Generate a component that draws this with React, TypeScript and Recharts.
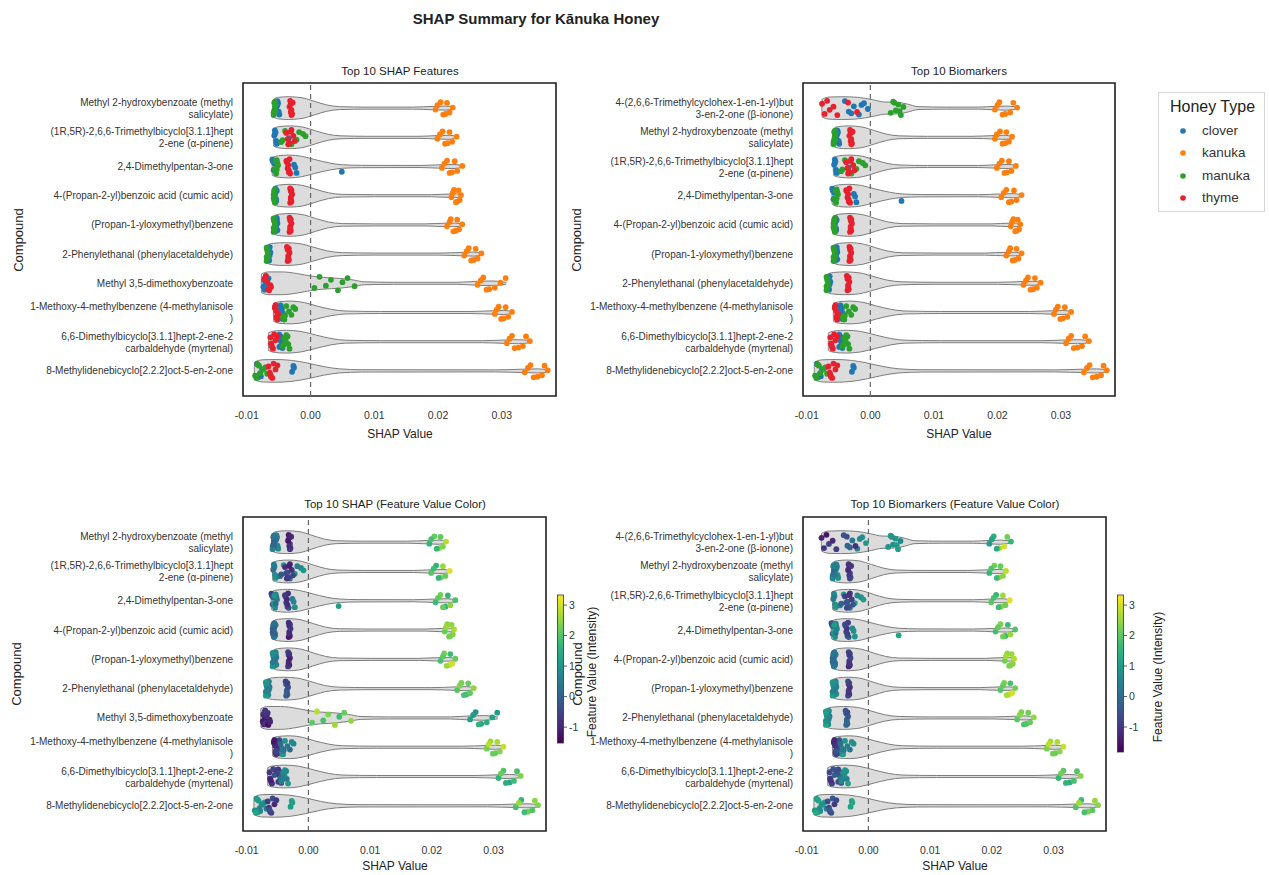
import React from 'react';
import { ComposedChart, Area, Scatter, XAxis, YAxis, ReferenceLine, ReferenceArea } from 'recharts';

const FONT = '"Liberation Sans", Arial, Helvetica, sans-serif';

// tick labels, wrapped the way they are printed
const COMPOUND_LABELS: string[][] = [
  ['Methyl 2-hydroxybenzoate (methyl', 'salicylate)'],
  ['(1R,5R)-2,6,6-Trimethylbicyclo[3.1.1]hept', '2-ene (α-pinene)'],
  ['2,4-Dimethylpentan-3-one'],
  ['4-(Propan-2-yl)benzoic acid (cumic acid)'],
  ['(Propan-1-yloxymethyl)benzene'],
  ['2-Phenylethanal (phenylacetaldehyde)'],
  ['Methyl 3,5-dimethoxybenzoate'],
  ['1-Methoxy-4-methylbenzene (4-methylanisole', ')'],
  ['6,6-Dimethylbicyclo[3.1.1]hept-2-ene-2', 'carbaldehyde (myrtenal)'],
  ['8-Methylidenebicyclo[2.2.2]oct-5-en-2-one'],
  ['4-(2,6,6-Trimethylcyclohex-1-en-1-yl)but', '3-en-2-one (β-ionone)'],
];

const SHAP_ORDER = [0, 1, 2, 3, 4, 5, 6, 7, 8, 9];
const BIOMARKER_ORDER = [10, 0, 1, 2, 3, 4, 5, 7, 8, 9];

const HONEY_TYPES = ['clover', 'kanuka', 'manuka', 'thyme'];
const HONEY_COLORS = ['#1f77b4', '#ff7f0e', '#2ca02c', '#e8202e'];

const X_TICKS = [-0.01, 0, 0.01, 0.02, 0.03];
const CBAR_TICKS = [-1, 0, 1, 2, 3];

// vertical offsets of the strip points inside a row, one list per honey type
const CLOVER_JITTER = [-0.24, 0.12, -0.06, 0.22, -0.17, 0.03, 0.18, -0.11];
const KANUKA_JITTER = [0.05, -0.2, 0.2, -0.1, 0.15, -0.02, 0.22, -0.18];
const MANUKA_JITTER = [0.16, -0.22, 0.08, -0.12, 0.24, -0.04, -0.18, 0.1];
const THYME_JITTER = [-0.15, 0.2, -0.25, 0.06, -0.05, 0.24, -0.19, 0.13];

// SHAP values per compound (index as in COMPOUND_LABELS)
const CLOVER_SHAP: number[][] = [
  [-0.0052, -0.005, -0.0053, -0.0049, -0.0051, -0.0054, -0.005, -0.0052],
  [-0.0056, -0.0054, -0.0057, -0.0053, -0.0055, -0.0034, -0.0052, -0.0056],
  [-0.006, -0.0058, -0.0026, -0.0022, -0.0059, -0.0024, 0.0049, -0.0057],
  [-0.0055, -0.0054, -0.0056, -0.0055, -0.0053, -0.0056, -0.0054, -0.0055],
  [-0.0053, -0.0054, -0.0052, -0.0055, -0.0053, -0.0054, -0.0052, -0.0053],
  [-0.0064, -0.0066, -0.0063, -0.0065, -0.0067, -0.0064, -0.0066, -0.0065],
  [-0.007, -0.0074, -0.0068, -0.0072, -0.0066, -0.0071, -0.0069, -0.0073],
  [-0.0047, -0.0045, -0.0048, -0.0044, -0.0046, -0.0043, -0.0047, -0.0045],
  [-0.0049, -0.0046, -0.0048, -0.0044, -0.0047, -0.0045, -0.0049, -0.0046],
  [-0.0084, -0.008, -0.0076, -0.0082, -0.0027, -0.0029, -0.0078, -0.0026],
  [-0.004, -0.0034, -0.0026, -0.0018, -0.001, -0.0004, -0.003, -0.0014],
];
const KANUKA_SHAP: number[][] = [
  [0.0196, 0.0204, 0.0212, 0.0199, 0.0218, 0.0223, 0.0208, 0.0214],
  [0.0199, 0.0207, 0.0215, 0.0203, 0.0222, 0.0229, 0.0211, 0.0218],
  [0.0206, 0.0214, 0.0222, 0.021, 0.023, 0.0238, 0.0218, 0.0226],
  [0.0221, 0.0225, 0.023, 0.0223, 0.0234, 0.0236, 0.0228, 0.0232],
  [0.0214, 0.022, 0.0228, 0.0218, 0.0233, 0.0238, 0.0224, 0.023],
  [0.0241, 0.0248, 0.0256, 0.0245, 0.0262, 0.0268, 0.0252, 0.0259],
  [0.0262, 0.0271, 0.028, 0.0267, 0.0289, 0.0298, 0.0276, 0.0306],
  [0.0289, 0.0295, 0.0303, 0.0292, 0.031, 0.0316, 0.0299, 0.0306],
  [0.0308, 0.0316, 0.0326, 0.0312, 0.0333, 0.0344, 0.032, 0.0338],
  [0.0336, 0.0345, 0.0356, 0.0341, 0.0363, 0.0372, 0.035, 0.0367],
  [0.0196, 0.0203, 0.0212, 0.02, 0.022, 0.0231, 0.0208, 0.0225],
];
const MANUKA_SHAP: number[][] = [
  [-0.0058, -0.0056, -0.0057, -0.0055, -0.0058, -0.0056, -0.0057, -0.0055],
  [-0.0046, -0.004, -0.0022, -0.0012, -0.003, -0.0008, -0.0018, -0.0044],
  [-0.0055, -0.0053, -0.0056, -0.0052, -0.0054, -0.0051, -0.0055, -0.0053],
  [-0.0057, -0.0056, -0.0058, -0.0057, -0.0056, -0.0058, -0.0057, -0.0056],
  [-0.0057, -0.0058, -0.0056, -0.0057, -0.0058, -0.0056, -0.0057, -0.0058],
  [-0.0068, -0.0069, -0.0067, -0.0068, -0.0069, -0.0067, -0.0068, -0.0069],
  [0.0006, 0.0014, 0.0024, 0.0032, 0.0043, 0.005, 0.0058, 0.0069],
  [-0.0044, -0.0038, -0.003, -0.0024, -0.0041, -0.0034, -0.0027, -0.004],
  [-0.0044, -0.0038, -0.0035, -0.0041, -0.0033, -0.0039, -0.0036, -0.0042],
  [-0.0087, -0.0083, -0.0079, -0.0071, -0.0085, -0.0074, -0.0081, -0.0068],
  [0.0032, 0.0036, 0.004, 0.0044, 0.0048, 0.0052, 0.0038, 0.0046],
];
const THYME_SHAP: number[][] = [
  [-0.0031, -0.0029, -0.0032, -0.003, -0.0033, -0.003, -0.0028, -0.0031],
  [-0.0038, -0.0033, -0.003, -0.0036, -0.0027, -0.0035, -0.0031, -0.0025],
  [-0.0037, -0.0034, -0.0033, -0.0036, -0.0035, -0.0032, -0.0038, -0.0034],
  [-0.0031, -0.003, -0.0032, -0.0031, -0.0029, -0.0032, -0.003, -0.0031],
  [-0.0032, -0.0031, -0.0033, -0.0032, -0.003, -0.0033, -0.0031, -0.0032],
  [-0.0036, -0.0034, -0.0037, -0.0035, -0.0033, -0.0036, -0.0034, -0.0035],
  [-0.0072, -0.0066, -0.007, -0.0063, -0.0068, -0.0065, -0.0071, -0.0062],
  [-0.0056, -0.0053, -0.0055, -0.0051, -0.0054, -0.0052, -0.0056, -0.0053],
  [-0.0063, -0.006, -0.0057, -0.0062, -0.0055, -0.0059, -0.0052, -0.0061],
  [-0.0066, -0.0062, -0.0058, -0.0064, -0.0055, -0.006, -0.0052, -0.0063],
  [-0.0076, -0.0072, -0.0068, -0.0064, -0.0058, -0.0052, -0.0035, -0.0021],
];

// standardised feature value of each point (colour in the lower panels)
const CLOVER_FV: number[][] = [
  [0.6, 0.9, 0.4, 0.8, 0.5, 1.0, 0.7, 0.3],
  [0.5, 0.8, 0.2, 1.1, 0.6, -0.4, 0.9, 0.3],
  [-0.6, -0.2, 0.5, 0.9, -0.4, 0.7, 1.2, 0.1],
  [0.1, 0.3, -0.1, 0.2, 0.4, 0.0, 0.2, 0.1],
  [0.4, 0.8, 0.2, 0.6, 0.9, 0.3, 0.7, 0.5],
  [0.6, 0.9, 0.3, 0.8, 1.0, 0.5, 0.7, 0.4],
  [-0.9, -1.1, -0.7, -1.0, -0.8, -1.2, -0.6, -0.9],
  [-0.5, -0.2, -0.7, 0.3, -0.4, 0.6, -0.3, 0.1],
  [-0.8, -0.5, -0.9, -0.3, -0.7, 0.2, -0.6, -0.4],
  [0.7, 1.0, 0.9, 1.2, 1.3, 1.1, 0.8, 1.2],
  [-0.4, -0.1, 0.2, 0.5, 0.8, 1.0, -0.2, 0.6],
];
const KANUKA_FV: number[][] = [
  [1.6, 2.2, 2.6, 1.9, 2.4, 2.8, 1.7, 2.1],
  [2.0, 1.6, 2.4, 1.8, 2.2, 3.1, 1.7, 2.6],
  [1.8, 2.3, 1.6, 2.1, 2.5, 1.9, 2.2, 1.7],
  [2.2, 2.5, 2.3, 2.6, 2.4, 2.7, 2.3, 2.5],
  [1.9, 2.3, 2.9, 2.1, 3.0, 2.2, 2.6, 1.8],
  [2.0, 2.3, 1.8, 2.4, 2.1, 2.5, 1.9, 2.2],
  [1.2, 1.0, 1.4, 1.1, 1.5, 1.3, 1.6, 1.2],
  [2.3, 2.6, 2.1, 2.8, 2.4, 2.9, 2.2, 2.7],
  [1.6, 2.0, 1.4, 2.2, 1.8, 2.4, 1.5, 1.9],
  [1.9, 1.7, 2.3, 2.6, 2.0, 2.4, 1.8, 2.5],
  [1.0, 1.4, 2.6, 1.2, 3.0, 1.6, 1.3, 2.2],
];
const MANUKA_FV: number[][] = [
  [0.2, 0.5, -0.1, 0.3, 0.6, 0.0, 0.4, 0.1],
  [0.4, 0.9, 1.1, 0.8, 0.2, 1.0, 0.6, -0.2],
  [0.9, 0.6, 1.1, 0.3, 0.8, 0.5, 1.0, 0.2],
  [0.0, 0.2, -0.2, 0.1, 0.3, -0.1, 0.2, 0.0],
  [0.6, 0.9, 0.3, 0.7, 1.0, 0.5, 0.8, 0.4],
  [0.8, 1.1, 0.5, 0.9, 1.2, 0.6, 1.0, 0.7],
  [2.1, 2.8, 1.9, 2.4, 2.6, 1.8, 2.2, 2.5],
  [0.5, 0.9, 0.2, 0.7, 1.0, 0.4, 0.8, 0.3],
  [0.6, 1.0, 0.4, 0.9, 1.1, 0.7, 0.8, 0.5],
  [0.9, 1.2, 0.7, 1.0, 1.3, 0.8, 1.1, 0.6],
  [0.8, 1.0, 0.7, 0.9, 1.1, 0.6, 0.8, 1.0],
];
const THYME_FV: number[][] = [
  [-1.0, -0.8, -1.1, -0.9, -1.2, -0.7, -1.0, -0.9],
  [-0.9, -0.6, -1.0, -0.4, -0.8, -0.7, -1.1, -0.5],
  [-0.8, -0.5, -0.9, -0.6, -1.0, -0.4, -0.7, -0.9],
  [-0.9, -1.1, -0.8, -1.0, -0.7, -1.2, -0.9, -1.0],
  [-0.8, -1.0, -0.6, -0.9, -1.1, -0.7, -0.8, -1.0],
  [-0.3, -0.1, -0.5, 0.0, -0.4, -0.2, -0.6, -0.1],
  [-1.0, -1.2, -0.8, -1.1, -0.9, -1.3, -0.7, -1.0],
  [-0.9, -0.7, -1.1, -0.6, -1.0, -0.8, -1.2, -0.5],
  [-0.7, -1.0, -0.5, -0.9, -0.3, -0.8, -0.6, -1.1],
  [-0.6, -0.9, -0.4, -0.8, -1.0, -0.5, -0.7, -0.3],
  [-1.3, -1.0, -1.5, -0.8, -1.2, -0.9, -0.6, -1.1],
];

// violin outline per compound: [SHAP value, half height in row units]
const VIOLIN_PROFILES: [number, number][][] = [
  [[-0.0058, 0.3], [-0.005, 0.37], [-0.0035, 0.39], [-0.0015, 0.36], [0.0005, 0.24], [0.0025, 0.11], [0.0045, 0.05], [0.009, 0.035], [0.016, 0.035], [0.0195, 0.06], [0.0212, 0.07], [0.0223, 0.03]],
  [[-0.0058, 0.3], [-0.0048, 0.37], [-0.0032, 0.39], [-0.0012, 0.35], [0.0008, 0.22], [0.0028, 0.1], [0.0048, 0.05], [0.009, 0.035], [0.017, 0.035], [0.02, 0.06], [0.0218, 0.07], [0.0229, 0.03]],
  [[-0.006, 0.3], [-0.005, 0.37], [-0.0034, 0.39], [-0.0014, 0.35], [0.0006, 0.24], [0.003, 0.12], [0.005, 0.06], [0.008, 0.04], [0.017, 0.035], [0.0205, 0.06], [0.0225, 0.07], [0.0238, 0.03]],
  [[-0.0058, 0.3], [-0.0048, 0.37], [-0.0032, 0.39], [-0.0012, 0.35], [0.0008, 0.22], [0.0028, 0.1], [0.005, 0.045], [0.01, 0.035], [0.019, 0.035], [0.022, 0.06], [0.023, 0.06], [0.0236, 0.03]],
  [[-0.0058, 0.3], [-0.0048, 0.37], [-0.0032, 0.39], [-0.0012, 0.35], [0.0008, 0.22], [0.0028, 0.1], [0.005, 0.045], [0.01, 0.035], [0.018, 0.035], [0.0214, 0.06], [0.0228, 0.06], [0.0238, 0.03]],
  [[-0.0069, 0.3], [-0.0058, 0.37], [-0.004, 0.39], [-0.0018, 0.36], [0.0004, 0.24], [0.0026, 0.11], [0.005, 0.05], [0.01, 0.035], [0.02, 0.035], [0.024, 0.06], [0.0256, 0.07], [0.0268, 0.03]],
  [[-0.0077, 0.32], [-0.0065, 0.39], [-0.0045, 0.39], [-0.002, 0.33], [0.0, 0.25], [0.002, 0.2], [0.0045, 0.17], [0.0065, 0.12], [0.0085, 0.05], [0.013, 0.035], [0.023, 0.035], [0.0262, 0.07], [0.0285, 0.08], [0.0307, 0.03]],
  [[-0.0058, 0.3], [-0.0048, 0.37], [-0.003, 0.39], [-0.001, 0.34], [0.001, 0.22], [0.0032, 0.11], [0.0055, 0.05], [0.011, 0.035], [0.025, 0.035], [0.0288, 0.06], [0.0303, 0.07], [0.0317, 0.03]],
  [[-0.0066, 0.3], [-0.0055, 0.37], [-0.0038, 0.39], [-0.0015, 0.35], [0.0008, 0.23], [0.0032, 0.11], [0.0055, 0.05], [0.011, 0.035], [0.027, 0.035], [0.0308, 0.06], [0.0326, 0.07], [0.0346, 0.03]],
  [[-0.0088, 0.3], [-0.0075, 0.38], [-0.0055, 0.39], [-0.003, 0.36], [-0.0005, 0.27], [0.002, 0.15], [0.0045, 0.07], [0.008, 0.04], [0.029, 0.035], [0.0336, 0.06], [0.0356, 0.07], [0.0374, 0.03]],
  [[-0.0076, 0.3], [-0.0064, 0.38], [-0.0045, 0.39], [-0.002, 0.37], [0.0005, 0.28], [0.0022, 0.21], [0.0042, 0.2], [0.0058, 0.14], [0.0075, 0.05], [0.012, 0.035], [0.017, 0.035], [0.0196, 0.06], [0.0214, 0.07], [0.0232, 0.03]],
];

const SHAP_BY_TYPE = [CLOVER_SHAP, KANUKA_SHAP, MANUKA_SHAP, THYME_SHAP];
const FV_BY_TYPE = [CLOVER_FV, KANUKA_FV, MANUKA_FV, THYME_FV];
const JITTER_BY_TYPE = [CLOVER_JITTER, KANUKA_JITTER, MANUKA_JITTER, THYME_JITTER];

const X_DOMAIN: [number, number] = [-0.0106, 0.0385];
const Y_DOMAIN: [number, number] = [-0.86, 9.86];

const VIRIDIS = ['#440154', '#482878', '#3e4989', '#31688e', '#26828e', '#1f9e89', '#35b779', '#6ece58', '#b5de2b', '#fde725'];

function viridis(t: number) {
  const c = Math.max(0, Math.min(1, t)) * (VIRIDIS.length - 1);
  const i = Math.min(Math.floor(c), VIRIDIS.length - 2);
  const f = c - i;
  const a = VIRIDIS[i], b = VIRIDIS[i + 1];
  const ch = (h: string, k: number) => parseInt(h.slice(1 + 2 * k, 3 + 2 * k), 16);
  const mix = [0, 1, 2].map((k) => Math.round(ch(a, k) + (ch(b, k) - ch(a, k)) * f));
  return `rgb(${mix.join(',')})`;
}

function violinData(c: number, row: number) {
  const prof = VIOLIN_PROFILES[c];
  const start = { x: prof[0][0] - 0.00003, band: [row, row] };
  return [start, ...prof.map(([x, w]) => ({ x, band: [row - w, row + w] }))];
}

function stripData(order: number[], t: number, vmin: number, vmax: number) {
  const out: { x: number; y: number; c: string }[] = [];
  const jitter = JITTER_BY_TYPE[t];
  order.forEach((c, row) => {
    SHAP_BY_TYPE[t][c].forEach((x, k) => {
      const fv = FV_BY_TYPE[t][c][k];
      out.push({ x, y: row + jitter[k % jitter.length], c: viridis((fv - vmin) / (vmax - vmin)) });
    });
  });
  return out;
}

const CompoundTick = (props: any) => {
  const { x, y, payload, order } = props;
  const lines = COMPOUND_LABELS[order[payload.value]] || [];
  const offs = lines.length === 2 ? [-5.5, 6.5] : [0];
  return (
    <text x={x} y={y} textAnchor="end" fontSize={10} fill="#333" fontFamily={FONT}>
      {lines.map((l, i) => (
        <tspan key={i} x={x} y={y + offs[i]} dy="0.35em">{l}</tspan>
      ))}
    </text>
  );
};

interface PanelProps {
  order: number[];
  fl: number; ft: number; fr: number; fb: number; cl: number;
  byFeature: boolean;
  vmin?: number; vmax?: number;
}

const Panel: React.FC<PanelProps> = ({ order, fl, ft, fr, fb, cl, byFeature, vmin = -1.5, vmax = 3.33 }) => {
  const width = fr - cl + 4;
  const height = fb - ft + 2 + 30;
  return (
    <div style={{ position: 'absolute', left: cl, top: ft - 2 }}>
      <ComposedChart width={width} height={height} margin={{ top: 2, right: 4, bottom: 0, left: 0 }}>
        <XAxis
          type="number"
          dataKey="x"
          domain={X_DOMAIN}
          allowDataOverflow
          ticks={X_TICKS}
          tickFormatter={(v: number) => v.toFixed(2)}
          axisLine={false}
          tickLine={false}
          tickMargin={10}
          height={30}
          tick={{ fontSize: 10.5, fill: '#333', fontFamily: FONT }}
        />
        <YAxis
          type="number"
          dataKey="y"
          domain={Y_DOMAIN}
          allowDataOverflow
          reversed
          ticks={[0, 1, 2, 3, 4, 5, 6, 7, 8, 9]}
          interval={0}
          width={fl - cl}
          axisLine={false}
          tickLine={false}
          tickMargin={4}
          tick={<CompoundTick order={order} />}
        />
        {order.map((c, row) => (
          <Area
            key={`v${row}`}
            data={violinData(c, row)}
            dataKey="band"
            type="monotone"
            stroke="#7d7d7d"
            strokeWidth={1}
            fill="#d6d6d6"
            fillOpacity={0.85}
            dot={false}
            activeDot={false}
            isAnimationActive={false}
          />
        ))}
        <ReferenceLine x={0} stroke="#666" strokeWidth={1.2} strokeDasharray="5 4" />
        {HONEY_TYPES.map((name, t) => (
          <Scatter
            key={name}
            name={name}
            data={stripData(order, t, vmin, vmax)}
            fill={HONEY_COLORS[t]}
            isAnimationActive={false}
            shape={(p: any) => (
              <circle cx={p.cx} cy={p.cy} r={2.9} fill={byFeature ? p.payload.c : HONEY_COLORS[t]} />
            )}
          />
        ))}
        <ReferenceArea
          x1={X_DOMAIN[0]}
          x2={X_DOMAIN[1]}
          y1={Y_DOMAIN[0]}
          y2={Y_DOMAIN[1]}
          fill="none"
          fillOpacity={0}
          stroke="#1e1e1e"
          strokeWidth={1.6}
        />
      </ComposedChart>
    </div>
  );
};

const Txt: React.FC<{ x: number; y: number; size: number; rotate?: boolean; bold?: boolean; children: React.ReactNode }> = ({ x, y, size, rotate, bold, children }) => (
  <div
    style={{
      position: 'absolute',
      left: x,
      top: y,
      transform: `translate(-50%, -50%)${rotate ? ' rotate(-90deg)' : ''}`,
      fontSize: size,
      fontWeight: bold ? 'bold' : 'normal',
      whiteSpace: 'nowrap',
      color: '#222',
      lineHeight: 1,
    }}
  >
    {children}
  </div>
);

const ColorBar: React.FC<{ x: number; top: number; bottom: number; vmin: number; vmax: number; id: string }> = ({ x, top, bottom, vmin, vmax, id }) => {
  const h = bottom - top;
  return (
    <svg style={{ position: 'absolute', left: x, top: top - 8 }} width={30} height={h + 16}>
      <defs>
        <linearGradient id={id} x1="0" y1="1" x2="0" y2="0">
          {VIRIDIS.map((c, i) => (
            <stop key={i} offset={`${(i / (VIRIDIS.length - 1)) * 100}%`} stopColor={c} />
          ))}
        </linearGradient>
      </defs>
      <rect x={0.5} y={8} width={6} height={h} fill={`url(#${id})`} stroke="#333" strokeWidth={0.8} />
      {CBAR_TICKS.map((v) => {
        const yy = 8 + ((vmax - v) / (vmax - vmin)) * h;
        return (
          <g key={v}>
            <line x1={6.5} x2={10} y1={yy} y2={yy} stroke="#333" strokeWidth={0.8} />
            <text x={12} y={yy} dy="0.35em" fontSize={10.5} fill="#333" fontFamily={FONT}>{v}</text>
          </g>
        );
      })}
    </svg>
  );
};

const HoneyLegend: React.FC = () => (
  <div
    style={{
      position: 'absolute',
      left: 1158,
      top: 92,
      width: 107,
      height: 120,
      border: '1px solid #d6d6d6',
      background: '#fff',
      boxSizing: 'border-box',
    }}
  >
    <div style={{ position: 'absolute', left: 0, width: 107, top: 5, textAlign: 'center', fontSize: 16, color: '#222' }}>Honey Type</div>
    {HONEY_TYPES.map((name, t) => (
      <div key={name} style={{ position: 'absolute', left: 0, top: 30 + t * 22.3, height: 16, width: 107 }}>
        <svg style={{ position: 'absolute', left: 20, top: 4 }} width={8} height={8}>
          <circle cx={4} cy={4} r={2.8} fill={HONEY_COLORS[t]} />
        </svg>
        <span style={{ position: 'absolute', left: 43, top: 0, fontSize: 13.5, color: '#333' }}>{name}</span>
      </div>
    ))}
  </div>
);

export default function App() {
  return (
    <div style={{ position: 'absolute', left: 0, top: 0, width: 1269, height: 875, background: '#fff', fontFamily: FONT, overflow: 'hidden' }}>
      <Txt x={536} y={18} size={15} bold>SHAP Summary for Kānuka Honey</Txt>

      <Txt x={400} y={72} size={11.5}>Top 10 SHAP Features</Txt>
      <Txt x={959} y={72} size={11.5}>Top 10 Biomarkers</Txt>
      <Txt x={395} y={505} size={11.5}>Top 10 SHAP (Feature Value Color)</Txt>
      <Txt x={955} y={505} size={11.5}>Top 10 Biomarkers (Feature Value Color)</Txt>

      <Panel order={SHAP_ORDER} fl={243} ft={83} fr={556} fb={396} cl={0} byFeature={false} />
      <Panel order={BIOMARKER_ORDER} fl={803} ft={83} fr={1115} fb={396} cl={560} byFeature={false} />
      <Panel order={SHAP_ORDER} fl={243} ft={517} fr={546} fb={831} cl={0} byFeature vmin={-1.52} vmax={3.33} />
      <Panel order={BIOMARKER_ORDER} fl={803} ft={517} fr={1106} fb={831} cl={560} byFeature vmin={-1.82} vmax={3.33} />

      <Txt x={400} y={434} size={12}>SHAP Value</Txt>
      <Txt x={959} y={434} size={12}>SHAP Value</Txt>
      <Txt x={395} y={866} size={12}>SHAP Value</Txt>
      <Txt x={955} y={866} size={12}>SHAP Value</Txt>

      <ColorBar x={557} top={595} bottom={743} vmin={-1.52} vmax={3.33} id="cb3" />
      <ColorBar x={1117} top={595} bottom={752} vmin={-1.82} vmax={3.33} id="cb4" />
      <Txt x={592} y={672} size={12} rotate>Feature Value (Intensity)</Txt>
      <Txt x={1158} y={677} size={12} rotate>Feature Value (Intensity)</Txt>

      <Txt x={18} y={240} size={13} rotate>Compound</Txt>
      <Txt x={576} y={240} size={13} rotate>Compound</Txt>
      <Txt x={16} y={674} size={13} rotate>Compound</Txt>
      <Txt x={577} y={674} size={13} rotate>Compound</Txt>

      <HoneyLegend />
    </div>
  );
}
